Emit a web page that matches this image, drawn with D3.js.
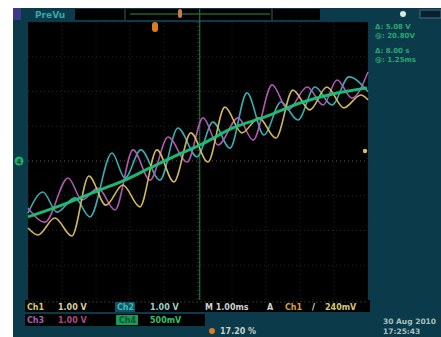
<!DOCTYPE html>
<html><head><meta charset="utf-8">
<script src="https://cdn.jsdelivr.net/npm/d3@7"></script>
<style>html,body{margin:0;padding:0;background:#fff;}svg{display:block;}</style>
</head><body>
<script>
// time axis in ms (10 divisions of 1 ms), vertical in divisions
const timeTicks = [-5,-4,-3,-2,-1,0,1,2,3,4,5];
const divTicks = [-4,-3,-2,-1,0,1,2,3,4];

const ch4T = [-5.00,-3.85,-2.88,-2.15,-1.41,-0.68,0.06,1.03,2.03,3.00,3.97,4.97];
const ch4V = [-1.61,-1.21,-0.83,-0.55,-0.20,0.14,0.46,0.95,1.29,1.67,1.93,2.10];

const ch1T = [-5.00,-4.71,-4.21,-3.71,-3.21,-2.71,-2.21,-1.71,-1.21,-0.71,-0.21,0.29,0.79,1.29,1.79,2.29,2.79,3.29,3.79,4.29,4.79,5.00];
const ch1V = [-1.93,-2.13,-1.64,-2.16,-0.43,-1.27,-0.69,-1.32,0.32,-0.60,0.81,-0.03,1.55,0.81,1.24,0.66,2.04,1.47,2.13,1.53,1.90,1.76];

const ch2T = [-5.00,-4.56,-4.15,-3.62,-3.18,-2.53,-2.15,-1.68,-1.12,-0.59,-0.03,0.44,0.94,1.44,1.94,2.44,2.94,3.44,3.94,4.44,5.00];
const ch2V = [-1.50,-0.89,-1.47,-1.06,-1.61,0.23,-0.49,0.32,-0.55,0.95,0.12,1.12,0.37,1.96,0.75,1.70,1.18,2.13,1.61,2.42,1.99];

const ch3T = [-5.00,-4.50,-3.82,-3.41,-2.94,-2.44,-1.91,-1.41,-0.88,-0.32,0.15,0.59,1.18,1.62,2.18,2.65,3.21,3.68,4.09,4.53,5.00];
const ch3V = [-1.35,-1.76,-0.49,-1.12,-0.78,-1.41,0.32,-0.55,0.69,-0.03,1.24,0.46,1.24,0.60,2.19,1.47,2.13,1.61,2.33,1.81,2.56];

const readRow1 = [["Ch1","#d8c870"],["1.00 V","#d8d0a0"],["Ch2","#40b8c0"],["1.00 V","#9ad0d0"],["M 1.00ms","#d0d0d0"],["A","#d0d0d0"],["Ch1","#d8a040"],["/","#e0e0e0"],["240mV","#d8c870"]];
const readRow2 = [["Ch3","#a860b0"],["1.00 V","#b04888"],["Ch4","#20a060"],["500mV","#30c070"]];
const sideText = ["\u0394: 5.08 V","@: 20.80V","\u0394: 8.00 s","@: 1.25ms"];

const W = 441, H = 337;
const svg = d3.select("body").append("svg").attr("width", W).attr("height", H);

// instrument screen
svg.append("rect").attr("x",13).attr("y",8).attr("width",W-13).attr("height",H-8).attr("fill","#0b3a4a");
// top bar
svg.append("rect").attr("x",13).attr("y",8).attr("width",8).attr("height",12).attr("fill","#3a3a8a");
svg.append("text").attr("x",35).attr("y",18).attr("font-family","DejaVu Sans").attr("font-size",9).attr("font-weight","bold").attr("fill","#3aa6a6").text("PreVu");
svg.append("rect").attr("x",75).attr("y",9).attr("width",245).attr("height",11).attr("fill","#000");
svg.append("line").attr("x1",130).attr("x2",270).attr("y1",14).attr("y2",14).attr("stroke","#3c8a3c").attr("stroke-width",1);
svg.append("line").attr("x1",125).attr("x2",125).attr("y1",9).attr("y2",20).attr("stroke","#555").attr("stroke-width",1);
svg.append("line").attr("x1",272).attr("x2",272).attr("y1",9).attr("y2",20).attr("stroke","#555").attr("stroke-width",1);
svg.append("rect").attr("x",178).attr("y",9).attr("width",4).attr("height",9).attr("rx",2).attr("fill","#c88040");
svg.append("circle").attr("cx",403).attr("cy",14).attr("r",3).attr("fill","#d8e8e0");
svg.append("rect").attr("x",420).attr("y",10).attr("width",21).attr("height",8).attr("fill","#0a2030").attr("stroke","#4a6a80");

const x = d3.scaleLinear().domain([-5,5]).range([28,368]);
const y = d3.scaleLinear().domain([-4,4]).range([300,22]);

// graticule
svg.append("rect").attr("x",x(-5)).attr("y",y(4)).attr("width",x(5)-x(-5)).attr("height",y(-4)-y(4)).attr("fill","#000");
const g = svg.append("g");
g.selectAll(".vx").data(timeTicks).join("line")
  .attr("x1",d=>x(d)).attr("x2",d=>x(d)).attr("y1",y(4)).attr("y2",y(-4))
  .attr("stroke",d=>d===0?"#555":"#262626").attr("stroke-width",1).attr("stroke-dasharray","1,3");
g.selectAll(".hy").data(divTicks).join("line")
  .attr("y1",d=>y(d)).attr("y2",d=>y(d)).attr("x1",x(-5)).attr("x2",x(5))
  .attr("stroke",d=>d===0?"#6a5060":"#262626").attr("stroke-width",1).attr("stroke-dasharray","1,3");
// trigger position marker
svg.append("line").attr("x1",x(0.05)).attr("x2",x(0.05)).attr("y1",9).attr("y2",y(-4)+10)
  .attr("stroke","#1f7040").attr("stroke-width",1.2);

// bottom readout background
svg.append("rect").attr("x",25).attr("y",300).attr("width",345).attr("height",12).attr("fill","#000");
svg.append("line").attr("x1",28).attr("x2",368).attr("y1",302).attr("y2",302).attr("stroke","#333").attr("stroke-dasharray","2,2");
svg.append("rect").attr("x",25).attr("y",314).attr("width",180).attr("height",12).attr("fill","#000");

// traces
const line = d3.line().x(d=>x(d[0])).y(d=>y(d[1])).curve(d3.curveMonotoneX);
const traces = [
  {t:ch2T, v:ch2V, c:"#3cb4b8", w:1.6},
  {t:ch3T, v:ch3V, c:"#b85cb8", w:1.6},
  {t:ch1T, v:ch1V, c:"#d8c060", w:1.6},
  {t:ch4T, v:ch4V, c:"#1fc07a", w:3}
];
svg.append("g").selectAll("path").data(traces).join("path")
  .attr("d",d=>line(d3.zip(d.t,d.v)))
  .attr("fill","none").attr("stroke",d=>d.c).attr("stroke-width",d=>d.w)
  .attr("stroke-linejoin","round").attr("opacity",0.95);

// markers
svg.append("circle").attr("cx",19).attr("cy",y(0)).attr("r",4.5).attr("fill","#1fb060");
svg.append("text").attr("x",19).attr("y",y(0)+3).attr("text-anchor","middle").attr("font-family","DejaVu Sans").attr("font-size",7).attr("font-weight","bold").attr("fill","#0b3947").text("4");
svg.append("rect").attr("x",152).attr("y",22).attr("width",6).attr("height",10).attr("rx",3).attr("fill","#e07a20");
svg.append("circle").attr("cx",365).attr("cy",151).attr("r",2.2).attr("fill","#d8c060");

// readouts
const rowX1 = [27,58,117,150,205,267,285,312,325];
readRow1.forEach((d,i)=>{
  if(i===2){svg.append("rect").attr("x",rowX1[i]-2).attr("y",302).attr("width",20).attr("height",10).attr("fill","#0e5560");}
  svg.append("text").attr("x",rowX1[i]).attr("y",310).attr("font-family","DejaVu Sans").attr("font-size",8).attr("font-weight","bold").attr("fill",d[1]).text(d[0]);
});
const rowX2 = [27,58,119,150];
readRow2.forEach((d,i)=>{
  if(i===2){svg.append("rect").attr("x",rowX2[i]-3).attr("y",315).attr("width",22).attr("height",10).attr("fill","#1a9a5a");}
  svg.append("text").attr("x",rowX2[i]).attr("y",323).attr("font-family","DejaVu Sans").attr("font-size",8).attr("font-weight","bold").attr("fill",i===2?"#0a5a30":d[1]).text(d[0]);
});
svg.append("circle").attr("cx",212).attr("cy",331).attr("r",3).attr("fill","#e07a20");
svg.append("text").attr("x",220).attr("y",334).attr("font-family","DejaVu Sans").attr("font-size",8).attr("font-weight","bold").attr("fill","#c8d0c8").text("17.20 %");
svg.append("text").attr("x",383).attr("y",324).attr("font-family","DejaVu Sans").attr("font-size",7.5).attr("font-weight","bold").attr("fill","#a8c0c0").text("30 Aug 2010");
svg.append("text").attr("x",383).attr("y",334).attr("font-family","DejaVu Sans").attr("font-size",7.5).attr("font-weight","bold").attr("fill","#a8c0c0").text("17:25:43");

// side panel
sideText.forEach((s,i)=>{
  svg.append("text").attr("x",375).attr("y",29+i*9+(i>1?6:0)).attr("font-family","DejaVu Sans").attr("font-size",7).attr("font-weight","bold").attr("fill","#2aa870").text(s);
});
</script>
</body></html>
